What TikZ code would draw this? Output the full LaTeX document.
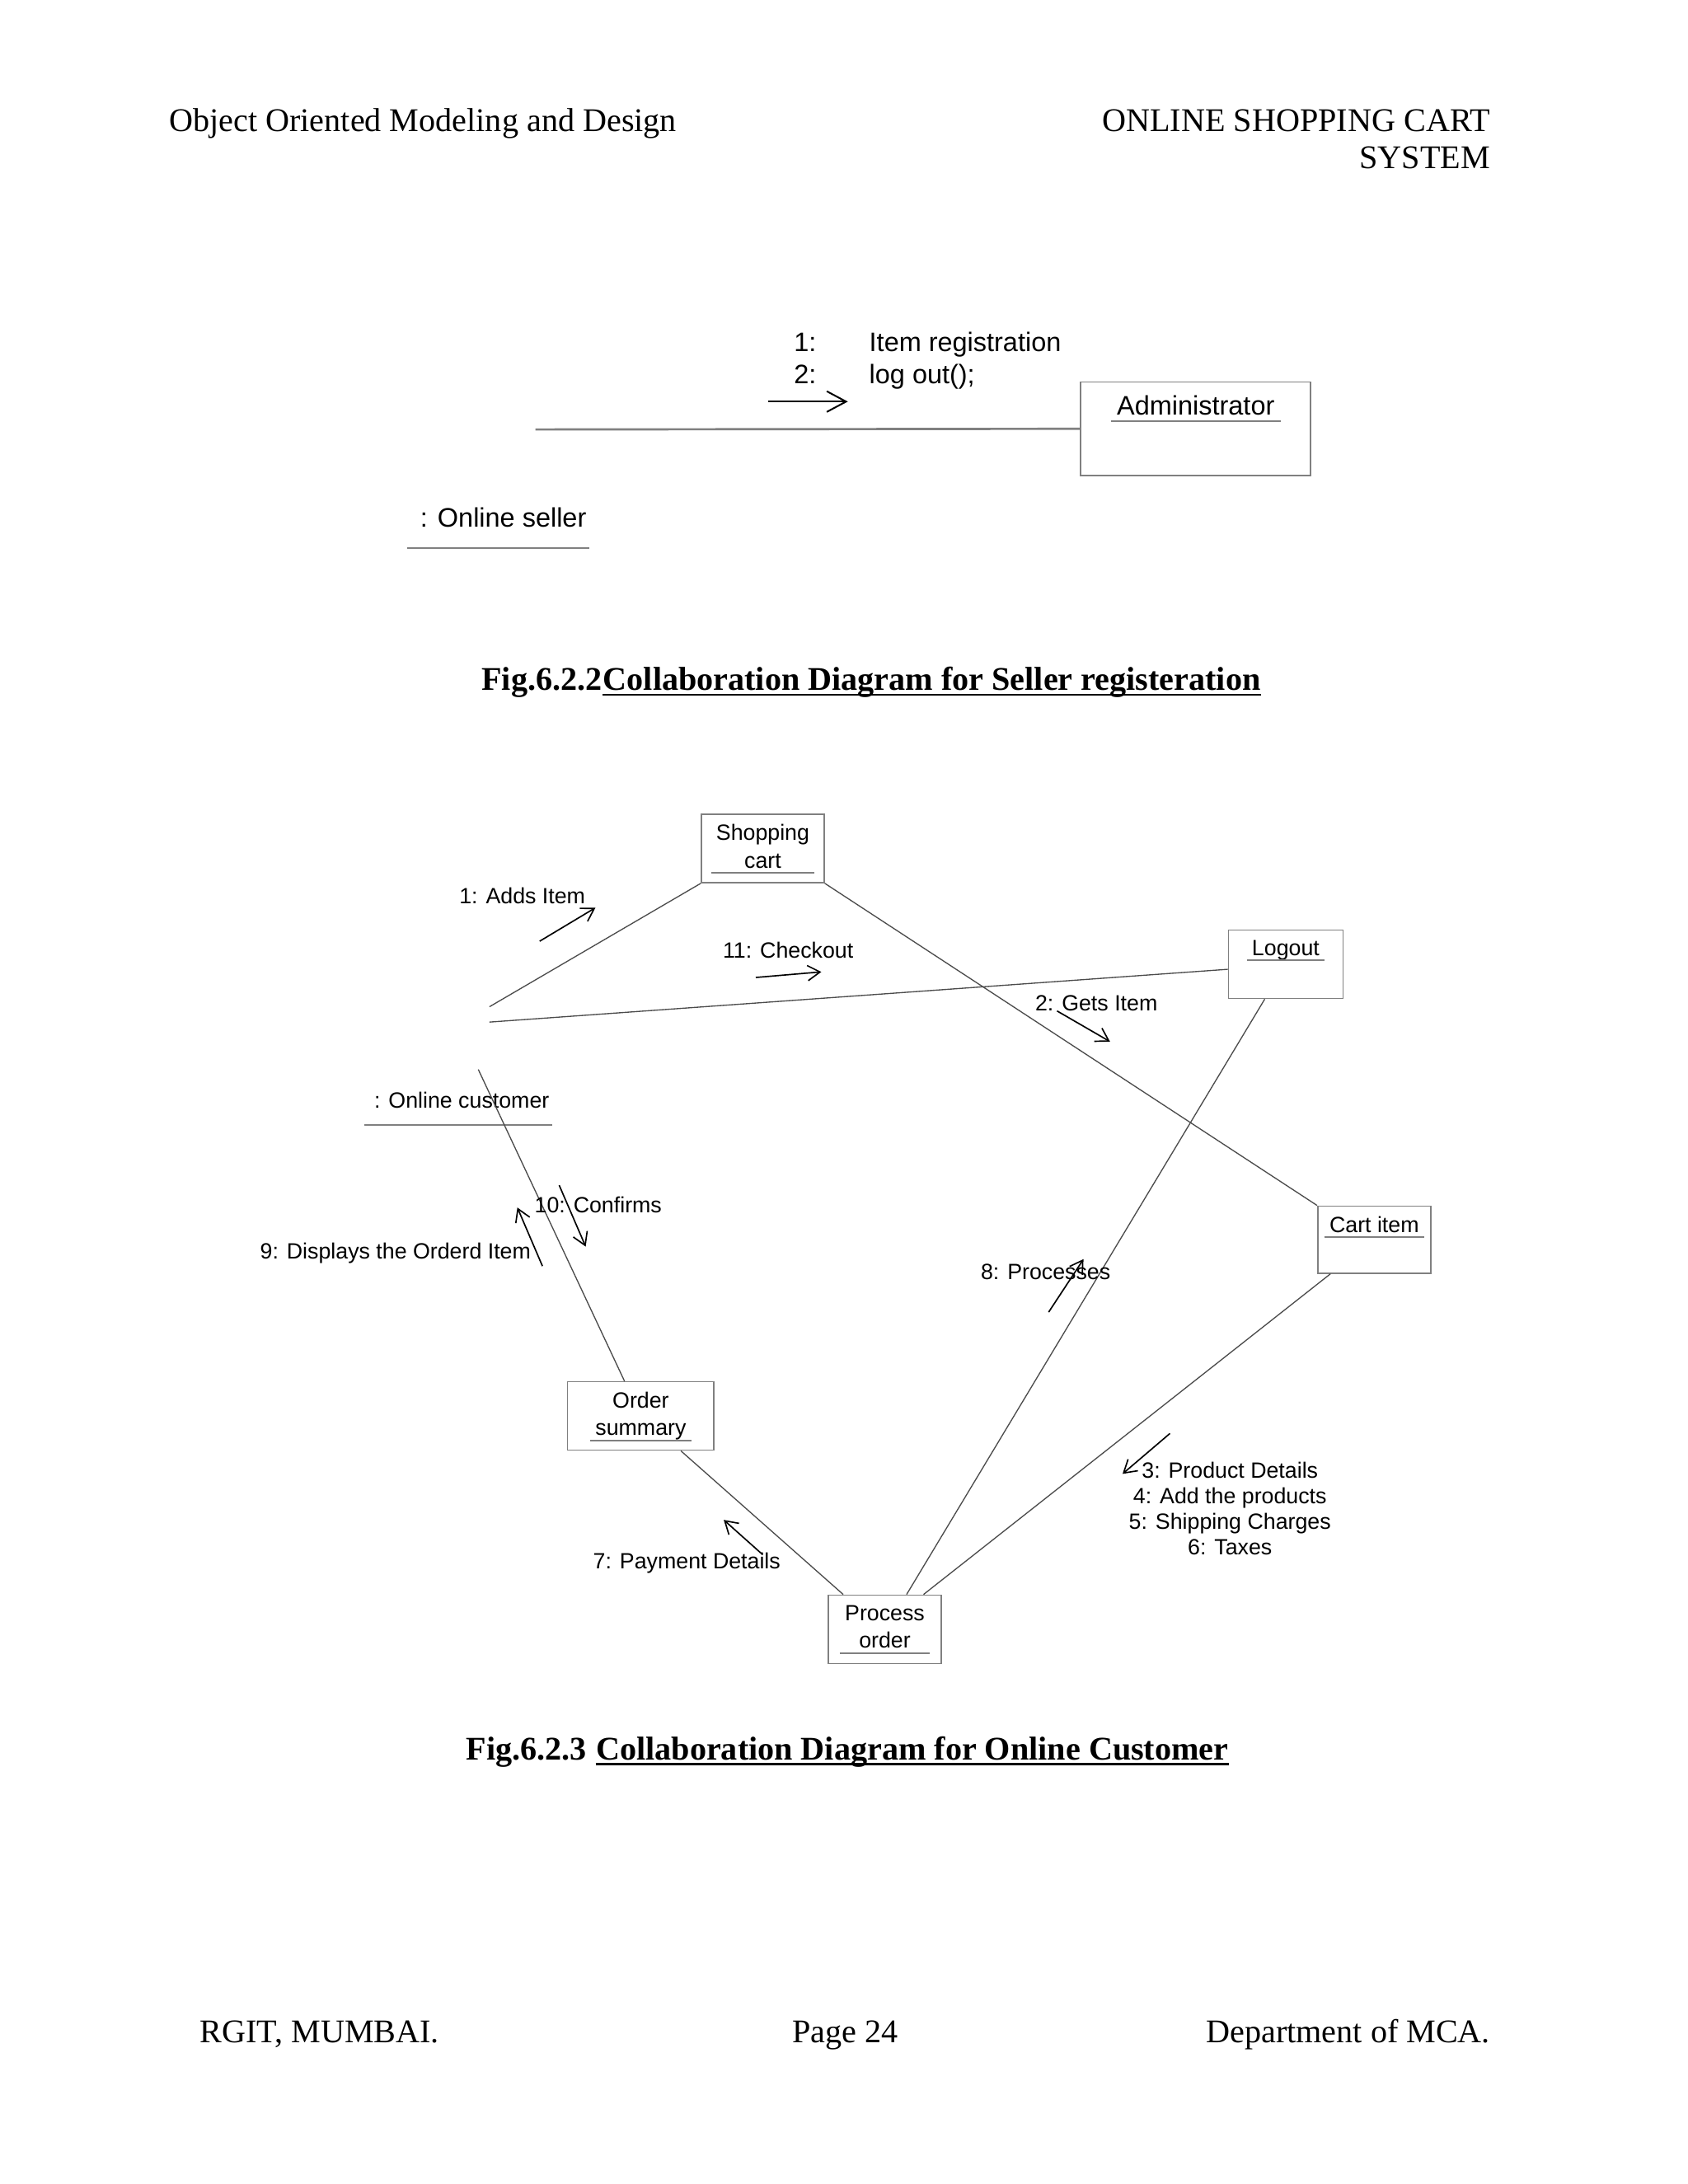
\documentclass[tikz,border=0pt]{standalone}
\usepackage{fontspec}
\setmainfont{Liberation Serif}
\setsansfont{Liberation Sans}
\usetikzlibrary{positioning, arrows.meta}

\begin{document}
\begin{tikzpicture}[
    x=1.0113pt, y=-1.0113pt,
    pagetext/.style={
        font=\fontsize{12}{14}\selectfont,
        inner sep=0pt
    },
    figcap/.style={
        font=\fontsize{12}{14}\selectfont\bfseries,
        inner sep=0pt,
        anchor=base west
    },
    capline/.style={draw=black, line width=0.8pt},
    objbox/.style={
        rectangle,
        draw=gray,
        line width=0.5pt,
        inner sep=0pt
    },
    objtext/.style={
        font=\sffamily\fontsize{8}{10}\selectfont,
        align=center,
        inner sep=1.7pt,
        text depth=0pt,
        anchor=north
    },
    bigtext/.style={
        font=\sffamily\fontsize{9.7}{11.5}\selectfont,
        inner sep=0pt
    },
    msgtext/.style={
        font=\sffamily\fontsize{8}{9.3}\selectfont,
        inner sep=0pt,
        anchor=base west
    },
    uline/.style={draw=gray, line width=0.6pt},
    link/.style={draw=black!70, line width=0.4pt},
    msg/.style={
        -{Straight Barb[length=4.5pt,width=5.5pt]},
        line width=0.5pt
    },
    bigmsg/.style={
        -{Straight Barb[length=7pt,width=7.5pt]},
        line width=0.6pt
    }
]

% Page
\fill[white] (0,0) rectangle (605.17,783.15);
\useasboundingbox (0,0) rectangle (605.17,783.15);

% Header and footer
\node[pagetext, anchor=base west] (head-l) at (60.5,47) {Object Oriented Modeling and Design};
\node[pagetext, anchor=base east] (head-r1) at (534.5,47) {ONLINE SHOPPING CART};
\node[pagetext, anchor=base east] (head-r2) at (534.5,60.5) {SYSTEM};
\node[pagetext, anchor=base west] (foot-l) at (71.5,732.5) {RGIT, MUMBAI.};
\node[pagetext, anchor=base] (foot-c) at (303,732.5) {Page 24};
\node[pagetext, anchor=base east] (foot-r) at (534.5,732.5) {Department of MCA.};

% ---------- Fig 6.2.2 ----------
% Administrator
\node[objbox, minimum width=83.4pt, minimum height=33.9pt] (admin) at (428.75,153.75) {};
\node[bigtext, anchor=north, inner sep=2pt] (admin-l) at ([yshift=-3pt]admin.north) {Administrator};
\draw[uline] (admin-l.south west) -- (admin-l.south east);

% Online seller
\node[bigtext, anchor=base west] (seller) at (150.5,189) {: Online seller};
\draw[uline] ([xshift=-4.5pt,yshift=-7.5pt]seller.base west) -- ([xshift=1pt,yshift=-7.5pt]seller.base east);

% Link and messages
\coordinate (seller-link) at (192,154);
\draw[draw=gray, line width=0.8pt] (seller-link) -- (admin.west);
\coordinate (reg-s) at (275.5,144);
\coordinate (reg-e) at (304,144);
\draw[bigmsg] (reg-s) -- (reg-e);
\node[bigtext, anchor=base west] (reg-n1) at (284.5,126) {1:};
\node[bigtext, anchor=base west] (reg-t1) at (311.5,126) {Item registration};
\node[bigtext, anchor=base west] (reg-n2) at (284.5,137.5) {2:};
\node[bigtext, anchor=base west] (reg-t2) at (311.5,137.5) {log out();};

% Caption
\node[figcap] (cap1-a) at (172.5,247.5) {Fig.6.2.2};
\node[figcap] (cap1-b) at (cap1-a.base east) {Collaboration Diagram for Seller registeration};
\draw[capline] ([yshift=-1.6pt]cap1-b.base west) -- ([yshift=-1.6pt]cap1-b.base east);

% ---------- Fig 6.2.3 ----------
% Shopping cart
\node[objbox, minimum width=44.5pt, minimum height=24.8pt] (cart) at (273.5,304.25) {};
\node[objtext] (cart-l) at ([yshift=-2pt]cart.north) {Shopping\\cart};
\draw[uline] (cart-l.south west) -- (cart-l.south east);

% Logout
\node[objbox, minimum width=41.5pt, minimum height=24.8pt] (logout) at (461,345.75) {};
\node[objtext] (logout-l) at ([yshift=-2pt]logout.north) {Logout};
\draw[uline] (logout-l.south west) -- (logout-l.south east);

% Cart item
\node[objbox, minimum width=41pt, minimum height=24.3pt] (item) at (492.75,444.5) {};
\node[objtext] (item-l) at ([yshift=-2pt]item.north) {Cart item};
\draw[uline] (item-l.south west) -- (item-l.south east);

% Order summary
\node[objbox, minimum width=53.1pt, minimum height=24.8pt] (order) at (229.75,507.75) {};
\node[objtext] (order-l) at ([yshift=-2pt]order.north) {Order\\summary};
\draw[uline] (order-l.south west) -- (order-l.south east);

% Process order
\node[objbox, minimum width=41pt, minimum height=24.8pt] (proc) at (317.25,584.25) {};
\node[objtext] (proc-l) at ([yshift=-2pt]proc.north) {Process\\order};
\draw[uline] (proc-l.south west) -- (proc-l.south east);

% Online customer
\node[msgtext] (cust) at (134,397.3) {: Online customer};
\draw[uline] ([xshift=-3.5pt,yshift=-6.2pt]cust.base west) -- ([xshift=1pt,yshift=-6.2pt]cust.base east);
\coordinate (cust-cart) at (175.5,361);
\coordinate (cust-logout) at (175.5,366.5);
\coordinate (cust-order) at (171.5,383.5);

% Links
\draw[link] (cust-cart) -- (cart.south west);
\draw[link] (cust-logout) -- (logout.185);
\draw[link] (cart.south east) -- (item.north west);
\draw[link] (logout.-121) -- (proc.58);
\draw[link] (item.-142) -- (proc.42);
\draw[link] (order.-41) -- (proc.140);
\draw[link] (cust-order) -- (order.115);

% Messages
\coordinate (m1-s) at (193.5,337.5);
\coordinate (m1-e) at (213.5,325.5);
\draw[msg] (m1-s) -- (m1-e);
\node[msgtext] (m1) at (164.5,323.9) {1: Adds Item};

\coordinate (m11-s) at (271,350.5);
\coordinate (m11-e) at (294.5,348.5);
\draw[msg] (m11-s) -- (m11-e);
\node[msgtext] (m11) at (259,343.4) {11: Checkout};

\coordinate (m2-s) at (379,362.5);
\coordinate (m2-e) at (398,373.5);
\draw[msg] (m2-s) -- (m2-e);
\node[msgtext] (m2) at (371,362.4) {2: Gets Item};

\coordinate (m3-s) at (419.5,514);
\coordinate (m3-e) at (402.5,528.5);
\draw[msg] (m3-s) -- (m3-e);
\node[msgtext, anchor=north, align=center] (m3) at (441,524.1) {3: Product Details\\4: Add the products\\5: Shipping Charges\\6: Taxes};

\coordinate (m7-s) at (273.5,557.5);
\coordinate (m7-e) at (259.5,545);
\draw[msg] (m7-s) -- (m7-e);
\node[msgtext] (m7) at (212.5,562.5) {7: Payment Details};

\coordinate (m8-s) at (376,470.5);
\coordinate (m8-e) at (388.5,451.5);
\draw[msg] (m8-s) -- (m8-e);
\node[msgtext] (m8) at (351.5,458.9) {8: Processes};

\coordinate (m9-s) at (194.5,454);
\coordinate (m9-e) at (185.5,433);
\draw[msg] (m9-s) -- (m9-e);
\node[msgtext, anchor=base east] (m9) at (190.5,451.5) {9: Displays the Orderd Item};

\coordinate (m10-s) at (200.5,425);
\coordinate (m10-e) at (210,447);
\draw[msg] (m10-s) -- (m10-e);
\node[msgtext] (m10) at (191.5,434.9) {10: Confirms};

% Caption
\node[figcap] (cap2-a) at (167,631) {Fig.6.2.3};
\node[figcap] (cap2-b) at ([xshift=3pt]cap2-a.base east) {Collaboration Diagram for Online Customer};
\draw[capline] ([yshift=-1.6pt]cap2-b.base west) -- ([yshift=-1.6pt]cap2-b.base east);

\end{tikzpicture}
\end{document}
